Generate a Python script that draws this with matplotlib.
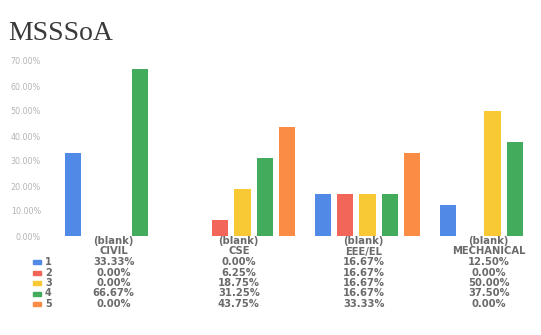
import numpy as np
import matplotlib
matplotlib.use("Agg")
import matplotlib.pyplot as plt
from matplotlib.transforms import blended_transform_factory

# data
departments = ["CIVIL", "CSE", "EEE/EL", "MECHANICAL"]
levels = ["1", "2", "3", "4", "5"]
level1 = [33.33, 0.00, 16.67, 12.50]
level2 = [0.00, 6.25, 16.67, 0.00]
level3 = [0.00, 18.75, 16.67, 50.00]
level4 = [66.67, 31.25, 16.67, 37.50]
level5 = [0.00, 43.75, 33.33, 0.00]
yticks = [0, 10, 20, 30, 40, 50, 60, 70]

series = [level1, level2, level3, level4, level5]
colors = ["#5089e6", "#f2665a", "#f9c935", "#43ac5c", "#fb8c45"]

W, H = 541, 335
fig = plt.figure(figsize=(W / 100, H / 100), dpi=100)
fig.patch.set_facecolor("white")

# axes: left edge at 55px, runs off the right side like the photo
ax = fig.add_axes([55 / W, 99 / H, 500 / W, 175 / H])
x = np.arange(len(departments))
step = 0.178
for i, vals in enumerate(series):
    ax.bar(x + (i - 2) * step, vals, width=0.13, color=colors[i], zorder=2)

ax.set_xlim(-0.5, 3.5)
ax.set_ylim(0, 70)
ax.set_yticks(yticks)
ax.set_yticklabels(["%.2f%%" % t for t in yticks], fontsize=5.8, color="#b4b4b4")
ax.tick_params(axis="y", length=0, pad=10)
ax.set_xticks([])
for s in ax.spines.values():
    s.set_visible(False)

fig.text(8 / W, 1 - 40 / H, "MSSSoA", fontsize=20, family="Liberation Serif",
         color="#3a3a3a")

# table under the bars
tr = blended_transform_factory(ax.transData, fig.transFigure)
txt = dict(fontsize=7.2, color="#6a6a6a", fontweight="bold", ha="center",
           va="center", family="DejaVu Sans")
for j, d in enumerate(departments):
    ax.text(j - 0.03, 1 - 241 / H, "(blank)", transform=tr, clip_on=False, **txt)
    ax.text(j - 0.03, 1 - 251.5 / H, d, transform=tr, clip_on=False, **txt)

row_y = [262, 272.5, 283, 293.5, 304]
for i, vals in enumerate(series):
    yy = 1 - row_y[i] / H
    fig.patches.append(plt.Rectangle((33 / W, yy - 2 / H), 8 / W, 4 / H,
                                     color=colors[i], transform=fig.transFigure))
    fig.text(45 / W, yy, levels[i], fontsize=7, color="#6a6a6a",
             fontweight="bold", va="center")
    for j, v in enumerate(vals):
        ax.text(j - 0.03, yy, "%.2f%%" % v, transform=tr, clip_on=False, **txt)

fig.savefig("out.png", dpi=100, facecolor="white")
